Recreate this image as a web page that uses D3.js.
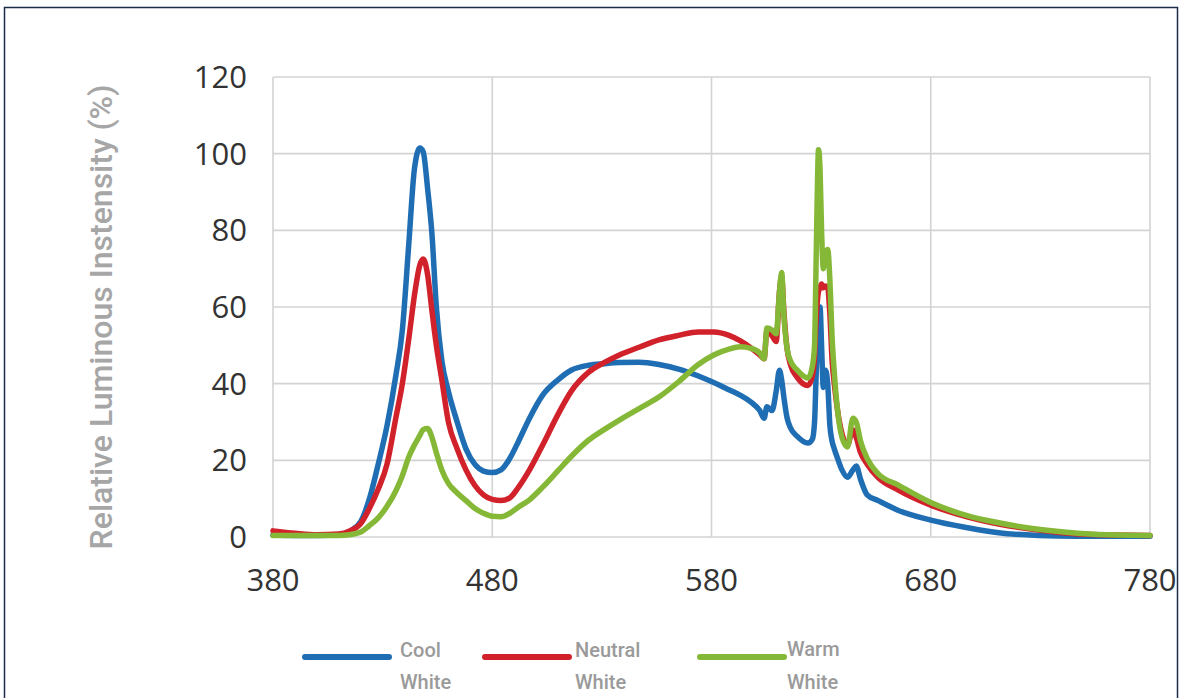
<!DOCTYPE html>
<html><head><meta charset="utf-8">
<script src="https://cdn.jsdelivr.net/npm/d3@7/dist/d3.min.js"></script>
<style>body{margin:0;background:#fff}svg{display:block}</style>
</head><body>
<svg id="c" width="1181" height="698"></svg>
<script>
const wavelengths = [380,390,400,410,415,420,424,428,432,436,439,442,444.5,447,448.5,450.5,452.5,454.5,457,460,464,468,472,476,480,484,488,492,497,503,510,516,524,531,538,547,556,565,574,581,588,593,598,602,604,605.3,607.6,609.5,611,612,613,614.5,616,619,624,626,627,627.6,628.2,628.8,629.5,630.2,631,632,633,634,635,636,637.5,639.5,642,644.5,646,648,651,656,665,680,697,711,729,747,765,780];
const coolWhite = [0.5,0.4,0.4,0.6,1.5,4,10,19,29,42,54,77,96,101.5,100.5,91,79,60,46,38,30,23,19,17.2,16.8,17.5,20.5,25,31,37,41,43.5,44.8,45.2,45.5,45.6,45,43.8,42,40.3,38.4,37,35.2,33,31,34,33,38,43.5,41,36.5,31,28.5,26.3,24.5,25.5,30,40,50,58,60,50,39,43.5,40,29,25,23,20.5,17.5,15.6,17.5,18.5,15,11,9.5,7,4.4,2.4,1.1,0.4,0.2,0.2,0.2];
const neutralWhite = [1.6,1.0,0.6,0.8,1.6,3.5,7.5,12.5,19,31,40,52,63,71,72.5,68.5,59,50,41,30,23,17.5,13.5,11,9.8,9.5,10.2,13,17.5,24,32,38,43,45.5,47.5,49.5,51.4,52.6,53.5,53.5,52.6,51.2,49.3,47.5,46.5,54,52.5,51,64,68,59,49,45,41.7,39.5,42,47,55,61,64,65,66,65,65.5,65,58,46,40,33,27,24,28,26,22,19,15.5,12.3,8.3,5.2,3.4,1.8,0.8,0.5,0.4];
const warmWhite = [0.4,0.4,0.4,0.4,0.6,1.3,3,5,8,12,16,21,24,26.5,28,28.3,26,22,17.5,14,11.5,9.5,7.5,6.2,5.4,5.3,6.2,7.8,9.7,13,17.3,21,25.3,28,30.5,33.5,36.5,40.5,45,47.5,49,49.6,49.2,48,46.5,54.5,54,53,64,69,58,49,46,43.6,41.5,44.5,50,68,88,101,96,80,70,74,75,67,52,43,33,26,23.5,31,30,25,20.5,16.5,13.6,9,5.5,3.7,2,1,0.5,0.4];
const seriesNames = ["Cool White","Neutral White","Warm White"];
const seriesColors = ["#1f6db3","#d1222c","#86b837"];
const xTicks = [380,480,580,680,780];
const yTicks = [0,20,40,60,80,100,120];
const yTitle = "Relative Luminous Instensity (%)";

const svg = d3.select("#c");
svg.append("rect").attr("width",1181).attr("height",698).attr("fill","#fff");
svg.append("rect").attr("x",4.5).attr("y",7.5).attr("width",1173).attr("height",720)
  .attr("fill","none").attr("stroke","#1c2b4a").attr("stroke-width",1.5);

const x = d3.scaleLinear().domain([380,780]).range([273,1150]);
const y = d3.scaleLinear().domain([0,120]).range([537,77]);

// grid
svg.append("g").selectAll("line").data(yTicks).join("line")
  .attr("x1",x(380)).attr("x2",x(780)).attr("y1",d=>y(d)).attr("y2",d=>y(d))
  .attr("stroke","#d3d3d3").attr("stroke-width",1.6);
svg.append("g").selectAll("line").data(xTicks).join("line")
  .attr("y1",y(0)).attr("y2",y(120)).attr("x1",d=>x(d)).attr("x2",d=>x(d))
  .attr("stroke","#d3d3d3").attr("stroke-width",1.6);

// tick labels
svg.append("g").selectAll("text").data(yTicks).join("text")
  .attr("x",247).attr("y",d=>y(d)).attr("dy","0.36em").attr("text-anchor","end")
  .attr("font-family","Open Sans").attr("font-size",31).attr("fill","#333")
  .text(d=>d);
svg.append("g").selectAll("text").data(xTicks).join("text")
  .attr("x",d=>x(d)).attr("y",591).attr("text-anchor","middle")
  .attr("font-family","Open Sans").attr("font-size",31).attr("fill","#333")
  .text(d=>d);

svg.append("text").attr("transform","translate(112,317) rotate(-90)")
  .attr("text-anchor","middle").attr("font-family","Roboto").attr("font-weight",500)
  .attr("font-size",32).attr("fill","#a6a6a6").text(yTitle);

const all = [coolWhite, neutralWhite, warmWhite];
const line = d3.line().x((d,i)=>x(wavelengths[i])).y(d=>y(d)).curve(d3.curveMonotoneX);
all.forEach((vals,k)=>{
  svg.append("path").datum(vals).attr("d",line).attr("fill","none")
    .attr("stroke",seriesColors[k]).attr("stroke-width",5.5)
    .attr("stroke-linejoin","round").attr("stroke-linecap","round");
});

// legend
const legX = [305,485,700];
const legTextX = [400,575,787];
seriesNames.forEach((n,k)=>{
  svg.append("line").attr("x1",legX[k]).attr("x2",legX[k]+84).attr("y1",657).attr("y2",657)
    .attr("stroke",seriesColors[k]).attr("stroke-width",6).attr("stroke-linecap","round");
  const parts = n.split(" ");
  const t = svg.append("text").attr("font-family","Roboto").attr("font-weight",500)
    .attr("font-size",20).attr("fill","#9a9a9a");
  t.append("tspan").attr("x",legTextX[k]).attr("y",k===2?656:657).text(parts[0]);
  t.append("tspan").attr("x",legTextX[k]).attr("y",689).text(parts[1]);
});
</script>
</body></html>
